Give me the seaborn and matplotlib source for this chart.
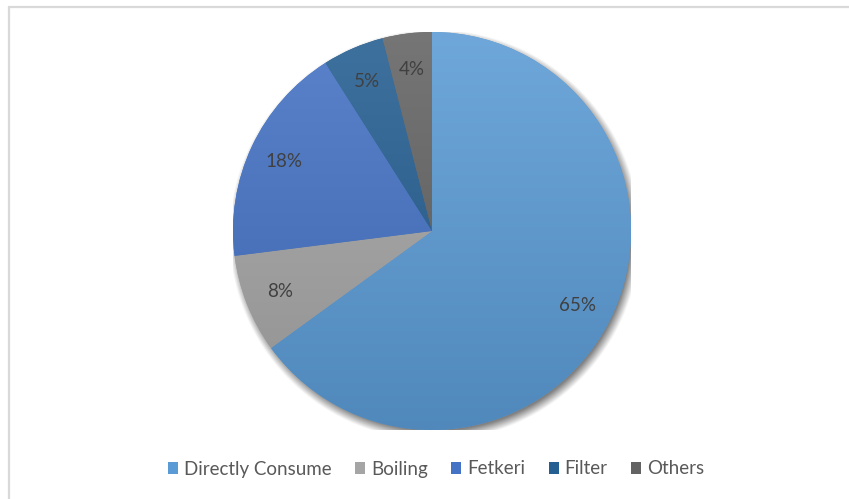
import numpy as np
import matplotlib
matplotlib.use("Agg")
import matplotlib.pyplot as plt
from matplotlib.patches import Patch
from matplotlib.lines import Line2D
from matplotlib.colors import to_rgb
import seaborn as sns

sns.set_theme(style="white")
plt.rcParams["font.family"] = ["Lato", "DejaVu Sans"]

# Share of households by drinking-water treatment method
methods = ["Directly Consume", "Boiling", "Fetkeri", "Filter", "Others"]
shares = [65, 8, 18, 5, 4]
palette = ["#5B9BD5", "#A5A5A5", "#4472C4", "#255E91", "#636363"]

W, H = 849, 499
fig = plt.figure(figsize=(W / 100, H / 100), dpi=100)
fig.patch.set_facecolor("white")

# Chart-area frame (top and left edges only)
fx = 8.5 / W
fy = 1 - 6.5 / H
fig.add_artist(Line2D([fx, 1.0], [fy, fy], transform=fig.transFigure,
                      color="#D9D9D9", lw=1.6))
fig.add_artist(Line2D([fx, fx], [0.0, fy], transform=fig.transFigure,
                      color="#D9D9D9", lw=1.6))

# Pie axes: centre ~ (432, 231) px, radius ~ 199 px
R = 199
cx, cy = 432, 231
ax = fig.add_axes([(cx - R) / W, (H - cy - R) / H, 2 * R / W, 2 * R / H])
ax.set_xlim(-1, 1)
ax.set_ylim(-1, 1)
ax.set_aspect("equal")
ax.axis("off")

# Soft drop shadow below the pie
n = 400
g = np.linspace(-1.1, 1.1, n)
xx, yy = np.meshgrid(g, g)
r = np.hypot(xx - 0.014, yy + 0.02)
alpha = np.clip((1.035 - r) / 0.05, 0, 1) * 0.5
shadow = np.zeros((n, n, 4))
shadow[..., 3] = alpha
ax.imshow(shadow, extent=[-1.1, 1.1, -1.1, 1.1], origin="lower",
          zorder=0, interpolation="bilinear")
ax.set_xlim(-1, 1)
ax.set_ylim(-1, 1)

wedges, texts, autotexts = ax.pie(
    shares, colors=palette, startangle=90, counterclock=False,
    radius=1.0, autopct="%1.0f%%", pctdistance=0.82,
    textprops=dict(color="#404040", fontsize=13.5),
    wedgeprops=dict(linewidth=0),
)
for w in wedges:
    w.set_zorder(1)

# Vertical gradient fill clipped to each wedge
ramp = np.linspace(0, 1, 256)[:, None]  # 0 bottom -> 1 top
for w, c in zip(wedges, palette):
    base = np.array(to_rgb(c))
    top = base + (1 - base) * 0.12
    bot = base * 0.88
    img = bot[None, None, :] * (1 - ramp[..., None]) + top[None, None, :] * ramp[..., None]
    img = np.repeat(img, 4, axis=1)
    im = ax.imshow(img, extent=[-1, 1, -1, 1], origin="lower",
                   zorder=2, interpolation="bilinear")
    im.set_clip_path(w)
for t in autotexts:
    t.set_zorder(5)
ax.set_xlim(-1, 1)
ax.set_ylim(-1, 1)

handles = [Patch(facecolor=c, edgecolor="none", label=m)
           for m, c in zip(methods, palette)]
fig.legend(handles=handles, loc="center", bbox_to_anchor=(436 / W, 1 - 469 / H),
           ncol=5, frameon=False, fontsize=13.5, handlelength=0.55,
           handleheight=0.55, handletextpad=0.3, columnspacing=1.25,
           labelcolor="#595959")

fig.savefig("out.png", dpi=100, facecolor="white")
